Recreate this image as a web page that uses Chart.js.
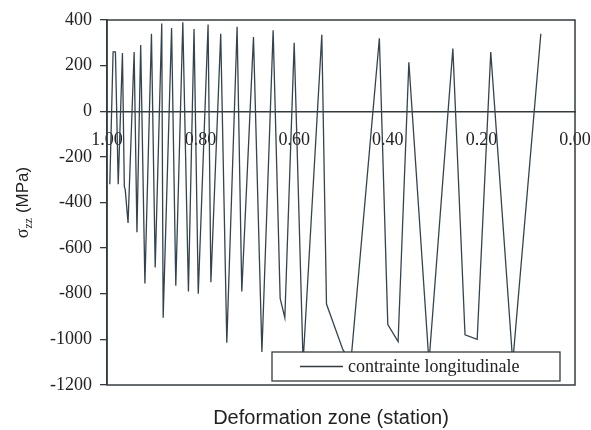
<!DOCTYPE html>
<html>
<head>
<meta charset="utf-8">
<script src="https://cdn.jsdelivr.net/npm/chart.js@4"></script>
<style>
  html, body { margin: 0; padding: 0; background: #fff; }
  #wrap { width: 591px; height: 430px; }
</style>
</head>
<body>
<div id="wrap"><canvas id="stressChart" width="591" height="430"></canvas></div>
<script>
// station along the deformation zone (1.00 = entry, 0.00 = exit)
const station = [0.994, 0.987, 0.982, 0.976, 0.967, 0.963, 0.961, 0.955, 0.942, 0.936,
  0.928, 0.919, 0.905, 0.897, 0.883, 0.880, 0.862, 0.853, 0.838, 0.826,
  0.814, 0.805, 0.784, 0.778, 0.757, 0.744, 0.722, 0.712, 0.687, 0.669,
  0.645, 0.630, 0.620, 0.600, 0.581, 0.541, 0.531, 0.496, 0.479, 0.418,
  0.400, 0.378, 0.355, 0.312, 0.261, 0.235, 0.209, 0.180, 0.133, 0.073];
// sigma_zz in MPa
const sigmaZZ = [-320, 260, 260, -320, 255, -330, -345, -490, 260, -530,
  290, -755, 340, -685, 385, -905, 365, -765, 390, -790,
  360, -800, 380, -750, 340, -1015, 370, -790, 325, -1055,
  355, -820, -905, 300, -1100, 335, -845, -1045, -1100, 320,
  -935, -1010, 215, -1100, 275, -980, -1000, 260, -1100, 340];
const xTicks = [1.0, 0.8, 0.6, 0.4, 0.2, 0.0];
const yTicks = [-1200, -1000, -800, -600, -400, -200, 0, 200, 400];

const ink = '#333b40';

// frame around the plot, legend box and axis texts
const decor = {
  id: 'decor',
  beforeDatasetsDraw(chart) {
    const a = chart.chartArea, ctx = chart.ctx;
    ctx.save();
    ctx.strokeStyle = ink;
    ctx.lineWidth = 1.5;
    ctx.strokeRect(a.left, a.top, a.right - a.left, a.bottom - a.top);
    ctx.restore();
  },
  afterDatasetsDraw(chart) {
    const a = chart.chartArea, ctx = chart.ctx;
    ctx.save();
    // legend inside the plot
    const lx = 272, ly = a.bottom - 33, lw = a.right - 15 - lx, lh = 29;
    ctx.fillStyle = '#fff';
    ctx.fillRect(lx, ly, lw, lh);
    ctx.strokeStyle = ink;
    ctx.lineWidth = 1.3;
    ctx.strokeRect(lx, ly, lw, lh);
    ctx.beginPath();
    ctx.moveTo(lx + 28, ly + lh / 2);
    ctx.lineTo(lx + 71, ly + lh / 2);
    ctx.stroke();
    ctx.fillStyle = '#222';
    ctx.font = '18px "Liberation Serif"';
    ctx.textBaseline = 'middle';
    ctx.fillText(chart.data.datasets[0].label, lx + 76, ly + lh / 2 + 1);

    // x title
    ctx.font = '20px "Liberation Sans"';
    ctx.textAlign = 'center';
    ctx.textBaseline = 'alphabetic';
    ctx.fillText('Deformation zone (station)', 331, 424);

    // y title with subscript
    ctx.translate(22, (a.top + a.bottom) / 2);
    ctx.rotate(-Math.PI / 2);
    ctx.textAlign = 'left';
    const f1 = '18px "Liberation Serif"', f2 = '12px "Liberation Serif"', f3 = '17px "Liberation Sans"';
    ctx.font = f1; const w1 = ctx.measureText('σ').width;
    ctx.font = f2; const w2 = ctx.measureText('zz').width;
    ctx.font = f3; const w3 = ctx.measureText(' (MPa)').width;
    let x = -(w1 + w2 + w3) / 2;
    ctx.font = f1; ctx.fillText('σ', x, 6); x += w1;
    ctx.font = f2; ctx.fillText('zz', x, 10); x += w2;
    ctx.font = f3; ctx.fillText(' (MPa)', x, 6);
    ctx.restore();
  }
};

new Chart(document.getElementById('stressChart'), {
  type: 'scatter',
  data: {
    datasets: [{
      label: 'contrainte longitudinale',
      data: station.map((s, i) => ({ x: s, y: sigmaZZ[i] })),
      showLine: true,
      borderColor: '#34444e',
      borderWidth: 1.3,
      pointRadius: 0,
      tension: 0
    }]
  },
  options: {
    responsive: false,
    animation: false,
    layout: { padding: { left: 0, right: 16, top: 20, bottom: 45 } },
    scales: {
      x: {
        type: 'linear',
        reverse: true,
        min: 0,
        max: 1,
        position: { y: 0 },
        afterBuildTicks: s => { s.ticks = xTicks.map(v => ({ value: v })); },
        afterFit: s => { s.paddingLeft = 0; s.paddingRight = 0; },
        ticks: {
          autoSkip: false,
          maxRotation: 0,
          padding: 18,
          color: '#222',
          font: { family: 'Liberation Serif', size: 18 },
          callback: v => v.toFixed(2)
        },
        grid: { display: true, drawOnChartArea: false, drawTicks: false },
        border: { display: true, color: ink, width: 1.5 }
      },
      y: {
        min: -1200,
        max: 400,
        afterBuildTicks: s => { s.ticks = yTicks.map(v => ({ value: v })); },
        afterFit: s => { s.width = 107; },
        ticks: {
          padding: 8,
          color: '#222',
          font: { family: 'Liberation Serif', size: 18 },
          callback: v => String(v)
        },
        grid: { drawOnChartArea: false, drawTicks: true, tickLength: 7, color: ink, lineWidth: 1.3 },
        border: { display: true, color: ink, width: 1.5 }
      }
    },
    plugins: {
      legend: { display: false },
      tooltip: { enabled: false }
    }
  },
  plugins: [decor]
});
</script>
</body>
</html>
